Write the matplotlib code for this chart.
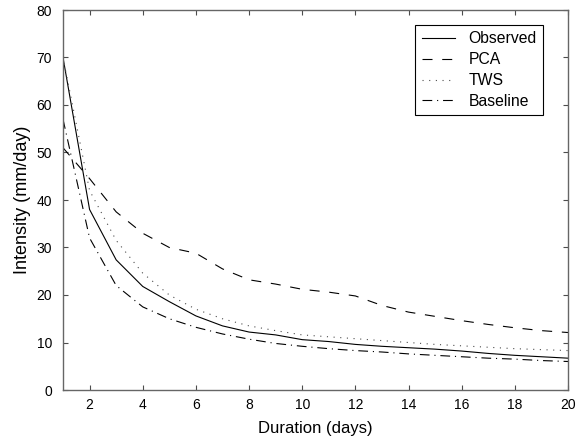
import numpy as np
import matplotlib
matplotlib.use("Agg")
import matplotlib.pyplot as plt

plt.rcParams["font.family"] = ["Liberation Sans", "DejaVu Sans"]
plt.rcParams["lines.scale_dashes"] = False

# Data
duration = np.arange(1, 21)
observed = [70, 38, 27.4, 21.8, 18.6, 15.6, 13.5, 12.2, 11.6, 10.6,
            10.2, 9.6, 9.2, 8.9, 8.6, 8.2, 7.7, 7.3, 7.0, 6.7]
pca = [51, 44.5, 37.5, 33, 30, 28.8, 25.5, 23.2, 22.3, 21.2,
       20.6, 19.8, 17.8, 16.4, 15.5, 14.6, 13.8, 13.1, 12.5, 12.1]
tws = [70, 42, 31.5, 24.6, 20, 17, 15, 13.5, 12.5, 11.6,
       11.2, 10.8, 10.4, 10.0, 9.6, 9.3, 9.0, 8.7, 8.5, 8.3]
baseline = [57, 32, 22, 17.5, 15, 13.2, 11.8, 10.7, 9.8, 9.2,
            8.7, 8.3, 8.0, 7.6, 7.3, 7.0, 6.7, 6.5, 6.2, 6.0]

series = [
    ("Observed", observed, dict(linestyle="-")),
    ("PCA", pca, dict(dashes=(7.2, 7.0))),
    ("TWS", tws, dict(dashes=(0.8, 4.0), color="0.3")),
    ("Baseline", baseline, dict(dashes=(7.0, 3.5, 0.8, 3.5))),
]

fig = plt.figure(figsize=(5.79, 4.36), dpi=100)
ax = fig.add_axes([63 / 579, 46 / 436, 505 / 579, 380 / 436])

for label, values, style in series:
    kw = dict(color="k", linewidth=0.8)
    kw.update(style)
    ax.plot(duration, values, label=label, **kw)

ax.set_xlim(1, 20)
ax.set_ylim(0, 80)
ax.set_xticks(np.arange(2, 21, 2))
ax.set_yticks(np.arange(0, 81, 10))
ax.tick_params(direction="in", top=True, right=True, length=3.5,
               width=0.8, labelsize=10, color="0.3")
ax.tick_params(axis="x", pad=6)
ax.tick_params(axis="y", pad=8)
for sp in ax.spines.values():
    sp.set_color("0.4")
    sp.set_linewidth(1.0)

ax.set_xlabel("Duration (days)", fontsize=12, labelpad=6)
ax.set_ylabel("Intensity (mm/day)", fontsize=13, labelpad=4)

leg = ax.legend(loc="upper right", bbox_to_anchor=(0.951, 0.961),
                prop={"size": 11.3}, fancybox=False, framealpha=1, edgecolor="k",
                handlelength=2.1, handletextpad=0.9, labelspacing=0.38,
                borderpad=0.4, borderaxespad=0)
leg.get_frame().set_linewidth(0.8)

fig.savefig("out.png", dpi=100)
